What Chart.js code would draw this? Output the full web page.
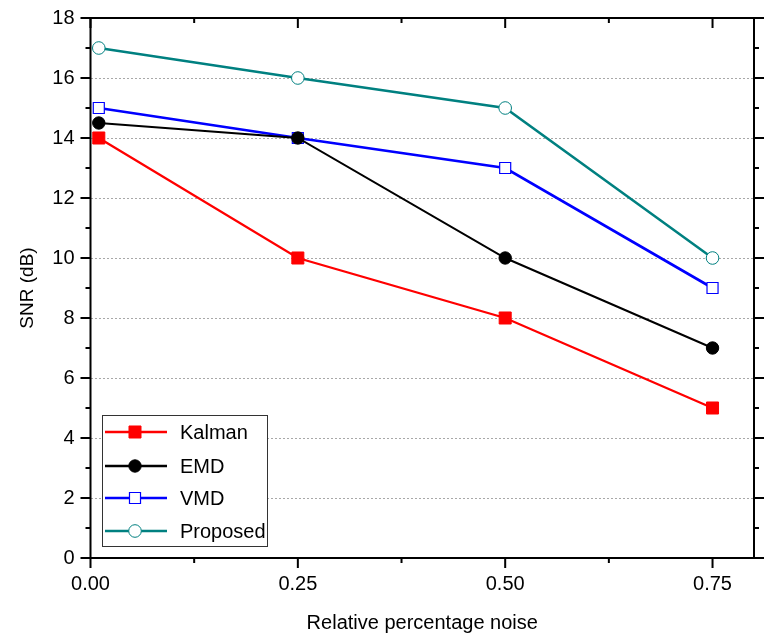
<!DOCTYPE html>
<html>
<head>
<meta charset="utf-8">
<script src="https://cdn.jsdelivr.net/npm/chart.js@4/dist/chart.umd.min.js"></script>
<style>
html,body{margin:0;padding:0;background:#fff;}
#wrap{position:relative;width:765px;height:635px;}
</style>
</head>
<body>
<div id="wrap"><canvas id="c" width="765" height="635"></canvas></div>
<script>
const noiseLevels = [0.01, 0.25, 0.50, 0.75];
const kalman = [14, 10, 8, 5];
const emd = [14.5, 14, 10, 7];
const vmd = [15, 14, 13, 9];
const proposed = [17, 16, 15, 10];
const xTickValues = [0, 0.25, 0.50, 0.75];
const seriesNames = ['Kalman', 'EMD', 'VMD', 'Proposed'];

const FONT = '"Liberation Sans", Arial, sans-serif';
const toXY = arr => arr.map((v, i) => ({x: noiseLevels[i], y: v}));

const styles = [
  {color: '#ff0000', pointStyle: 'rect', radius: 8.5, fill: '#ff0000', bw: 1, lw: 2.3},
  {color: '#000000', pointStyle: 'circle', radius: 6.2, fill: '#000000', bw: 1, lw: 2},
  {color: '#0000ff', pointStyle: 'rect', radius: 7.8, fill: '#ffffff', bw: 1.2, lw: 2.7},
  {color: '#008080', pointStyle: 'circle', radius: 6.3, fill: '#ffffff', bw: 1, lw: 2.5}
];
const seriesData = [kalman, emd, vmd, proposed];

const datasets = seriesData.map((d, i) => ({
  label: seriesNames[i],
  data: toXY(d),
  borderColor: styles[i].color,
  backgroundColor: styles[i].fill,
  borderWidth: styles[i].lw,
  pointStyle: styles[i].pointStyle,
  pointRadius: styles[i].radius,
  pointBorderWidth: styles[i].bw,
  pointBorderColor: styles[i].color,
  pointBackgroundColor: styles[i].fill,
  tension: 0
}));

const framePlugin = {
  id: 'frame',
  afterDraw(chart) {
    const ctx = chart.ctx;
    const a = chart.chartArea;
    const xs = chart.scales.x, ys = chart.scales.y;
    ctx.save();
    ctx.strokeStyle = '#000';
    ctx.lineWidth = 2;
    ctx.strokeRect(a.left, a.top, a.right - a.left, a.bottom - a.top);
    ctx.beginPath();
    for (let v = 0; v <= 0.8001; v += 0.125) {
      const px = xs.getPixelForValue(v);
      if (px > a.right - 1) continue;
      const major = Math.abs(v / 0.25 - Math.round(v / 0.25)) < 1e-6;
      const len = major ? 10 : 5;
      ctx.moveTo(px, a.bottom); ctx.lineTo(px, a.bottom + len);
      ctx.moveTo(px, a.top); ctx.lineTo(px, a.top + len);
    }
    for (let v = 0; v <= 18; v += 1) {
      const py = ys.getPixelForValue(v);
      const len = (v % 2 === 0) ? 10 : 5;
      ctx.moveTo(a.left, py); ctx.lineTo(a.left - len, py);
      ctx.moveTo(a.right, py); ctx.lineTo(a.right + len, py);
    }
    ctx.stroke();

    // legend
    const bx = 102, by = 415, bw = 165, bh = 131;
    ctx.lineWidth = 1;
    ctx.strokeStyle = '#333';
    ctx.fillStyle = '#fff';
    ctx.fillRect(bx, by, bw, bh);
    ctx.strokeRect(bx + 0.5, by + 0.5, bw, bh);
    const rows = [432, 466, 498, 531];
    ctx.font = '20px ' + FONT;
    ctx.textBaseline = 'middle';
    ctx.textAlign = 'left';
    rows.forEach((yy, i) => {
      const s = styles[i];
      ctx.strokeStyle = s.color;
      ctx.lineWidth = 2.5;
      ctx.beginPath();
      ctx.moveTo(105, yy); ctx.lineTo(167, yy);
      ctx.stroke();
      ctx.fillStyle = s.fill;
      ctx.strokeStyle = s.color;
      ctx.lineWidth = s.bw;
      ctx.beginPath();
      if (s.pointStyle === 'rect') {
        const h = s.radius * Math.SQRT1_2;
        ctx.rect(135 - h, yy - h, 2 * h, 2 * h);
      } else {
        ctx.arc(135, yy, s.radius, 0, Math.PI * 2);
      }
      ctx.fill(); ctx.stroke();
      ctx.fillStyle = '#000';
      ctx.fillText(seriesNames[i], 180, yy + 1);
    });
    ctx.restore();
  }
};

new Chart(document.getElementById('c'), {
  type: 'line',
  data: {datasets},
  options: {
    responsive: false,
    animation: false,
    layout: {padding: {left: 0, right: 11, top: 18, bottom: 0}},
    plugins: {legend: {display: false}, tooltip: {enabled: false}},
    scales: {
      x: {
        type: 'linear', min: 0, max: 0.8,
        afterBuildTicks: s => { s.ticks = xTickValues.map(v => ({value: v})); },
        afterFit: s => { s.height = 77; s.paddingLeft = 0; s.paddingRight = 0; },
        grid: {display: false, drawTicks: false},
        border: {display: false},
        ticks: {
          padding: 14, color: '#000', font: {family: FONT, size: 20},
          callback: v => Number(v).toFixed(2), maxRotation: 0
        },
        title: {display: true, text: 'Relative percentage noise', color: '#000',
          font: {family: FONT, size: 20}, padding: {top: 1, bottom: 0}}
      },
      y: {
        min: 0, max: 18,
        afterFit: s => { s.width = 90.5; s.paddingTop = 0; s.paddingBottom = 0; },
        grid: {
          drawTicks: false,
          color: c => (c.tick && (c.tick.value === 0 || c.tick.value === 18)) ? 'rgba(0,0,0,0)' : '#a8a8a8',
          lineWidth: 1
        },
        border: {display: false, dash: [2, 2]},
        ticks: {stepSize: 2, padding: 16, color: '#000', font: {family: FONT, size: 20}},
        title: {display: true, text: 'SNR (dB)', color: '#000',
          font: {family: FONT, size: 19}, padding: {top: 16, bottom: 0}}
      }
    }
  },
  plugins: [framePlugin]
});
</script>
</body>
</html>
